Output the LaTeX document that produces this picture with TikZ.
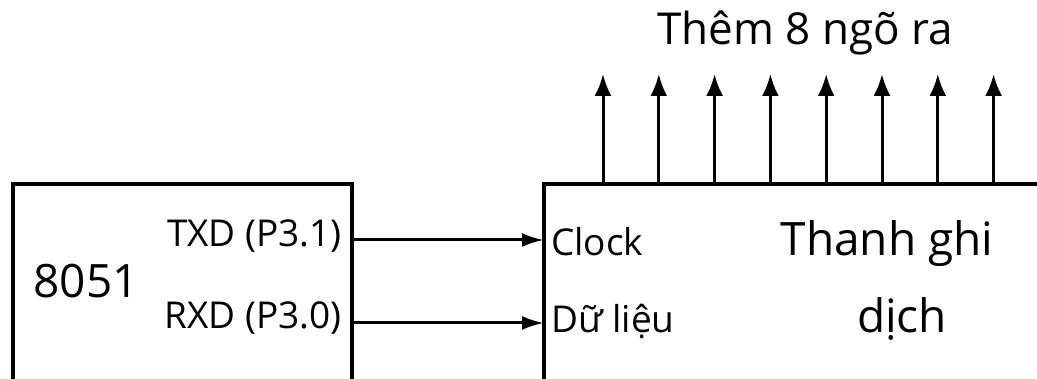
\documentclass[tikz,border=0pt]{standalone}
\usepackage{fontspec}
\setmainfont{Open Sans}
\usetikzlibrary{positioning,calc,arrows.meta}

\begin{document}
\begin{tikzpicture}[x=1pt,y=1pt,
  blockbox/.style={draw, line width=3.4pt, inner sep=0pt, outer sep=0pt, anchor=north west},
  sig/.style={line width=3pt, -{Latex[length=22pt,width=14pt]}},
  outpin/.style={line width=3pt, -{Latex[length=22pt,width=17pt]}},
  biglbl/.style={font=\fontsize{46}{52}\selectfont, inner sep=0pt},
  pinlbl/.style={font=\fontsize{37}{43}\selectfont, inner sep=0pt}]
\useasboundingbox (0,0) rectangle (1037,379);
\clip (0,0) rectangle (1037,379);
% Blocks
\node[blockbox, minimum width=339, minimum height=260] (mcu) at (13,195) {};
\node[blockbox, minimum width=560, minimum height=260] (sreg) at (544,195) {};
% Labels
\node[biglbl, anchor=base] (chip) at (86,81) {8051};
\node[pinlbl, anchor=base east] (txdlbl) at (342,132) {TXD (P3.1)};
\node[pinlbl, anchor=base east] (rxdlbl) at (342,50) {RXD (P3.0)};
\node[pinlbl, anchor=base west] (clklbl) at (551,123) {Clock};
\node[pinlbl, anchor=base west] (datlbl) at (551,46) {Dữ liệu};
\node[biglbl, anchor=base] (reg1) at (887,123) {Thanh ghi};
\node[biglbl, anchor=base] (reg2) at (902,46) {dịch};
% Serial lines
\coordinate (txd) at ($(mcu.north east)+(0,-56)$);
\coordinate (rxd) at ($(mcu.north east)+(0,-139)$);
\draw[sig] (txd) -- (sreg.west |- txd);
\draw[sig] (rxd) -- (sreg.west |- rxd);
% Parallel outputs
\foreach \i in {0,...,7}
  \draw[outpin] ($(sreg.north west)+(59+55.8*\i,0)$) -- ++(0,110);
\node[font=\fontsize{44}{50}\selectfont, inner sep=0pt, anchor=base] (outs) at (805,334) {Thêm 8 ngõ ra};
\end{tikzpicture}
\end{document}
